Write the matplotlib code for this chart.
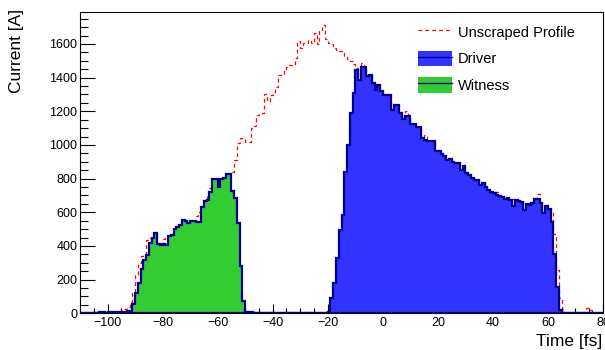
import numpy as np
import matplotlib
matplotlib.use("Agg")
import matplotlib.pyplot as plt
from matplotlib.patches import Patch
from matplotlib.lines import Line2D
from matplotlib.ticker import MultipleLocator

plt.rcParams['font.family'] = ['Liberation Sans', 'DejaVu Sans']

# 1 fs bins from -110 to 80
bin_lo, bin_hi = -110, 80

# Unscraped current profile (first bin starts at -97 fs)
unscraped_start = -97
unscraped = [8, 12, 22, 28, 40, 70, 125, 230, 300, 340, 345, 436, 445, 455,
             476, 412, 415, 440, 462, 468, 470, 500, 515, 527, 555, 551, 539, 551,
             547, 580, 600, 640, 670, 700, 745, 797, 797, 753, 797, 801, 825, 825,
             842, 912, 1010, 1040, 1035, 1015, 1015, 1100, 1110, 1180, 1185, 1190,
             1300, 1263, 1295, 1315, 1343, 1414, 1414, 1441, 1461, 1477, 1480, 1516,
             1620, 1575, 1605, 1605, 1625, 1605, 1666, 1600, 1676, 1710, 1631, 1605,
             1600, 1575, 1556, 1560, 1545, 1530, 1510, 1500, 1480, 1460, 1400, 1485,
             1463, 1408, 1418, 1368, 1324, 1358, 1318, 1299, 1299, 1299, 1209, 1239,
             1239, 1190, 1154, 1200, 1170, 1127, 1127, 1107, 1107, 1041, 1061, 1021,
             1021, 1021, 962, 962, 945, 932, 912, 916, 896, 892, 892, 853, 873, 833,
             820, 803, 793, 793, 763, 773, 750, 734, 718, 718, 718, 704, 694, 678,
             684, 674, 680, 674, 668, 660, 615, 651, 645, 655, 678, 709, 655, 595,
             639, 620, 600, 470, 260, 90, 25, 0, 0, 0, 0, 0, 0, 0, 0, 30, 20]

# Driver bunch (first bin starts at -21 fs)
driver_start = -21
driver = [3, 5, 89, 178, 327, 495, 585, 842, 1001, 1190, 1309, 1447, 1384, 1463,
          1463, 1408, 1418, 1368, 1324, 1358, 1318, 1299, 1299, 1299, 1209, 1239,
          1239, 1190, 1154, 1170, 1170, 1127, 1127, 1107, 1107, 1041, 1031, 1021,
          1021, 1021, 962, 962, 945, 932, 912, 916, 896, 892, 892, 853, 873, 833,
          820, 803, 793, 793, 763, 773, 750, 734, 718, 714, 704, 694, 690, 678,
          684, 674, 639, 674, 668, 660, 615, 651, 645, 655, 678, 678, 655, 595,
          639, 620, 545, 353, 158, 20]

# Witness bunch (first bin starts at -103 fs)
witness_start = -103
witness = [5, 5, 3, 8, 5, 5, 5, 3, 10, 10, 12,
           16, 55, 120, 182, 262, 317, 345, 420, 447,
           476, 412, 404, 412, 404, 460, 464, 500, 515, 527, 555, 551, 539, 551,
           547, 543, 543, 634, 670, 674, 718, 797, 797, 753, 797, 801, 825, 825,
           724, 684, 535, 282, 75, 10, 5, 5, 3]

edges = np.arange(bin_lo, bin_hi + 1)


def fill_bins(start, vals):
    h = np.zeros(len(edges) - 1)
    i0 = start - bin_lo
    h[i0:i0 + len(vals)] = vals
    return h


h_unscraped = fill_bins(unscraped_start, unscraped)
h_driver = fill_bins(driver_start, driver)
h_witness = fill_bins(witness_start, witness)

blue_fill = '#3333ff'
green_fill = '#33cc33'
navy = '#00008f'

fig = plt.figure(figsize=(6.05, 3.5), dpi=100)
ax = fig.add_axes([80 / 605, 1 - 313.3 / 350, 523 / 605, 301.3 / 350])

ax.stairs(h_unscraped, edges, color='red', lw=0.9, linestyle=(0, (3, 2.5)), zorder=2)
ax.stairs(h_driver, edges, fill=True, color=blue_fill, lw=0, zorder=3)
ax.stairs(h_witness, edges, fill=True, color=green_fill, lw=0, zorder=3)
ax.stairs(h_driver, edges, color=navy, lw=1.6, zorder=4)
ax.stairs(h_witness, edges, color=navy, lw=1.6, zorder=4)

ax.set_xlim(bin_lo, bin_hi)
ax.set_ylim(0, 1790)

ax.xaxis.set_major_locator(MultipleLocator(20))
ax.xaxis.set_minor_locator(MultipleLocator(5))
ax.yaxis.set_major_locator(MultipleLocator(200))
ax.yaxis.set_minor_locator(MultipleLocator(50))
ax.tick_params(axis='both', which='both', direction='in', top=False, right=False,
               labelsize=9, width=0.8, color='black')
ax.tick_params(axis='x', which='major', length=6.5, pad=3)
ax.tick_params(axis='x', which='minor', length=3.5)
ax.tick_params(axis='y', which='major', length=11, pad=2)
ax.tick_params(axis='y', which='minor', length=5.5)
for s in ax.spines.values():
    s.set_linewidth(0.8)

fig.text(17 / 605, 1 - 9 / 350, 'Current [A]', rotation=90, ha='center', va='top',
         fontsize=12.5)
fig.text(602 / 605, 4 / 350, 'Time [fs]', ha='right', va='baseline', fontsize=12.5)

handles = [
    Line2D([], [], color='red', lw=0.9, linestyle=(0, (3, 2.5))),
    (Patch(facecolor=blue_fill, edgecolor='none'), Line2D([], [], color=navy, lw=1)),
    (Patch(facecolor=green_fill, edgecolor='none'), Line2D([], [], color=navy, lw=1)),
]
labels = ['Unscraped Profile', 'Driver', 'Witness']
fig.legend(handles, labels, loc='upper left', bbox_to_anchor=(418 / 605, 1 - 24 / 350),
           bbox_transform=fig.transFigure, frameon=False, fontsize=10.5,
           handlelength=2.3, handleheight=1.25, handletextpad=0.45,
           labelspacing=0.75, borderpad=0, borderaxespad=0)

fig.savefig('out.png', dpi=100)
